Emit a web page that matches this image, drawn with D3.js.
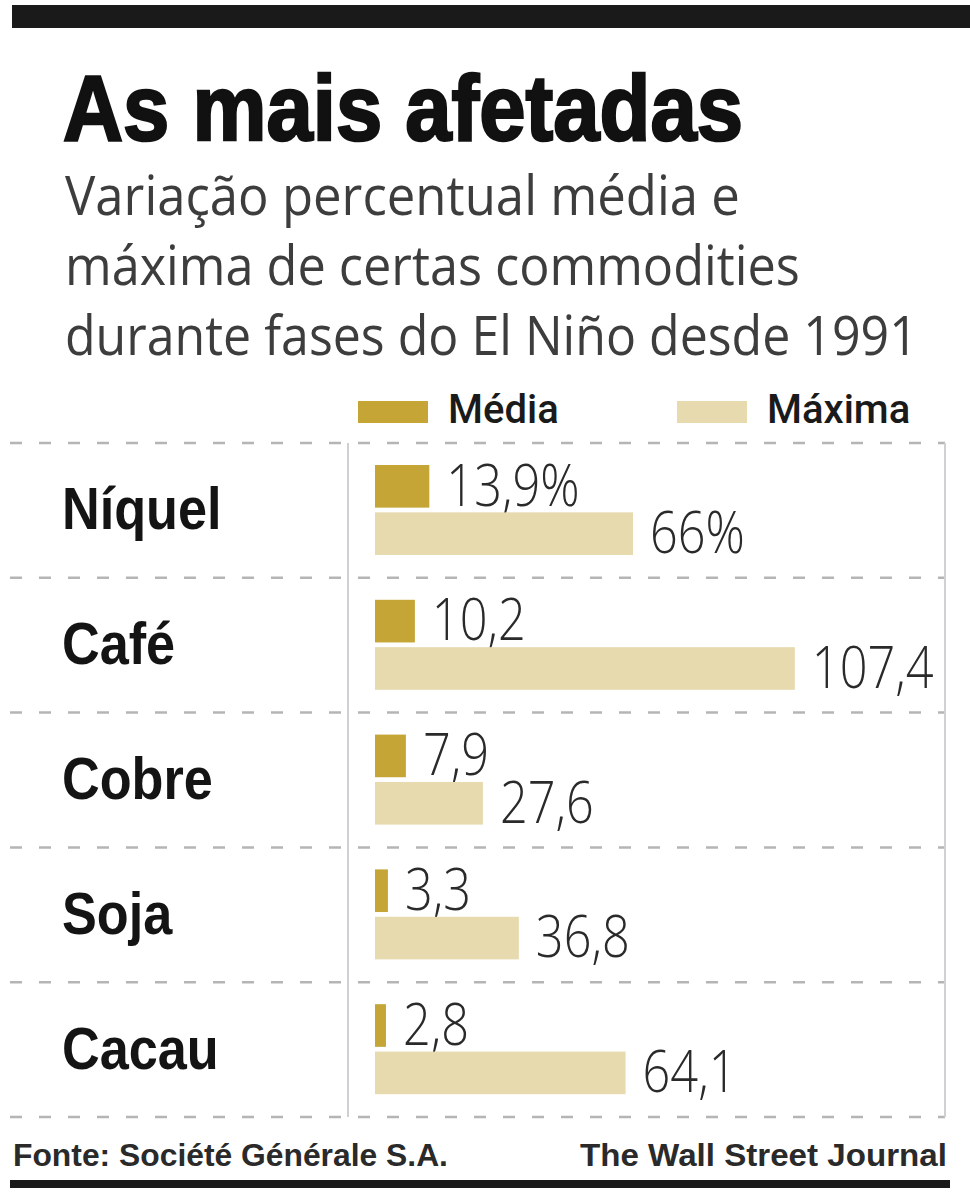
<!DOCTYPE html>
<html>
<head>
<meta charset="utf-8">
<script src="https://cdn.jsdelivr.net/npm/d3@7"></script>
<style>
  body { margin: 0; background: #fff; }
  svg { display: block; }
</style>
</head>
<body>
<div id="chart"></div>
<script>
var commodities = ["Níquel", "Café", "Cobre", "Soja", "Cacau"];
var media = [13.9, 10.2, 7.9, 3.3, 2.8];
var maxima = [66, 107.4, 27.6, 36.8, 64.1];
var seriesNames = ["Média", "Máxima"];
var subtitleLines = [
  "Variação percentual média e",
  "máxima de certas commodities",
  "durante fases do El Niño desde 1991"
];

var W = 970, H = 1200;
var corMedia = "#c4a535", corMaxima = "#e6daae";

var svg = d3.select("#chart").append("svg").attr("width", W).attr("height", H);

// encolhe o texto na horizontal ate a largura pedida
function fitWidth(sel, x0, y0, largura) {
  sel.each(function() {
    var w = this.getComputedTextLength();
    d3.select(this).attr("transform", "translate(" + x0 + "," + y0 + ") scale(" + (largura / w) + ",1)");
  });
}

// barras pretas de cima e de baixo
svg.append("rect").attr("x", 12).attr("y", 5).attr("width", 958).attr("height", 23).attr("fill", "#1a1a1a");
svg.append("rect").attr("x", 10).attr("y", 1180).attr("width", 940).attr("height", 8).attr("fill", "#1a1a1a");

// titulo
svg.append("text")
    .style("font-family", "'Liberation Sans', Arial, sans-serif")
    .style("font-weight", 700).style("font-size", "92px")
    .attr("fill", "#111").attr("stroke", "#111").attr("stroke-width", 2.5)
    .text("As mais afetadas")
    .call(fitWidth, 63, 140, 680);

var subLens = [675, 735, 853];
svg.selectAll("text.sub")
    .data(subtitleLines)
    .enter().append("text")
    .attr("class", "sub")
    .style("font-family", "'Open Sans', sans-serif")
    .style("font-size", "55px")
    .attr("fill", "#3d3d3d")
    .text(function(d) { return d; })
    .each(function(d, i) { d3.select(this).call(fitWidth, 65, 215 + i * 70, subLens[i]); });

// legenda
var legX = [358, 677];
var leg = svg.selectAll("g.leg")
    .data(seriesNames)
    .enter().append("g")
    .attr("class", "leg")
    .attr("transform", function(d, i) { return "translate(" + legX[i] + ",401)"; });
leg.append("rect").attr("width", 70).attr("height", 22)
    .attr("fill", function(d, i) { return i === 0 ? corMedia : corMaxima; });
leg.append("text")
    .attr("x", 90).attr("y", 22)
    .style("font-family", "Roboto, sans-serif")
    .style("font-weight", 500).style("font-size", "40px")
    .attr("fill", "#1a1a1a")
    .text(function(d) { return d; });

// escalas
var x = d3.scaleLinear().domain([0, 110]).range([375, 805]);
var y = d3.scaleBand().domain(commodities).range([443, 1117]);
var ySub = d3.scaleBand().domain(seriesNames).range([22, 112]).paddingInner(0.1);

// linhas tracejadas
var bounds = commodities.map(function(c) { return y(c); }).concat([y.range()[1]]);
svg.selectAll("line.sep")
    .data(bounds)
    .enter().append("line")
    .attr("class", "sep")
    .attr("x1", 10).attr("x2", 945)
    .attr("y1", function(d) { return d; }).attr("y2", function(d) { return d; })
    .attr("stroke", "#b5b5b5").attr("stroke-width", 2.5)
    .attr("stroke-dasharray", "12,17");

svg.append("line").attr("x1", 348).attr("x2", 348).attr("y1", 443).attr("y2", 1117)
    .attr("stroke", "#d0d0d4").attr("stroke-width", 2);
svg.append("line").attr("x1", 945).attr("x2", 945).attr("y1", 443).attr("y2", 1117)
    .attr("stroke", "#d0d0d4").attr("stroke-width", 2);

var rows = svg.selectAll("g.row")
    .data(commodities)
    .enter().append("g")
    .attr("class", "row")
    .attr("transform", function(d) { return "translate(0," + y(d) + ")"; });

rows.append("text")
    .attr("transform", "translate(62," + (y.bandwidth() / 2 + 19) + ") scale(0.87,1)")
    .style("font-family", "'Liberation Sans', Arial, sans-serif")
    .style("font-weight", 700).style("font-size", "60px")
    .attr("fill", "#141414")
    .text(function(d) { return d; });

function fmt(v, i) {
  return String(v).replace(".", ",") + (i === 0 ? "%" : "");
}

[media, maxima].forEach(function(vals, s) {
  var name = seriesNames[s];
  rows.append("rect")
      .attr("x", x(0))
      .attr("y", ySub(name))
      .attr("width", function(d, i) { return x(vals[i]) - x(0); })
      .attr("height", ySub.bandwidth())
      .attr("fill", s === 0 ? corMedia : corMaxima);

  rows.append("text")
      .attr("transform", function(d, i) {
        return "translate(" + (x(vals[i]) + 17) + "," + (ySub(name) + ySub.bandwidth() - 2) + ") scale(0.84,1)";
      })
      .style("font-family", "'Open Sans', sans-serif")
      .style("font-weight", 300).style("font-size", "58px")
      .attr("fill", "#2a2a2a")
      .text(function(d, i) { return fmt(vals[i], i); });
});

// rodape
svg.append("text")
    .style("font-family", "'Liberation Sans', Arial, sans-serif")
    .style("font-weight", 700).style("font-size", "32px")
    .attr("fill", "#2a2a2a")
    .text("Fonte: Société Générale S.A.")
    .call(fitWidth, 13, 1166, 435);
svg.append("text")
    .style("font-family", "'Liberation Sans', Arial, sans-serif")
    .style("font-weight", 700).style("font-size", "32px")
    .attr("fill", "#2a2a2a")
    .text("The Wall Street Journal")
    .call(fitWidth, 580, 1166, 367);
</script>
</body>
</html>
